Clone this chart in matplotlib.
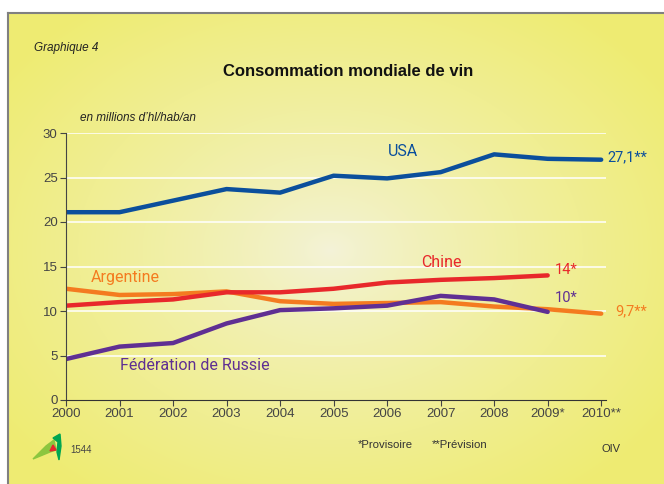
import numpy as np
import matplotlib.pyplot as plt
from matplotlib.patches import Polygon

annees = [2000, 2001, 2002, 2003, 2004, 2005, 2006, 2007, 2008, 2009, 2010]
etiquettes_x = ["2000", "2001", "2002", "2003", "2004", "2005", "2006", "2007", "2008", "2009*", "2010**"]

usa = [21.1, 21.1, 22.4, 23.7, 23.3, 25.2, 24.9, 25.6, 27.6, 27.1, 27.0]
chine = [10.6, 11.0, 11.3, 12.1, 12.1, 12.5, 13.2, 13.5, 13.7, 14.0]
argentine = [12.5, 11.8, 11.9, 12.2, 11.1, 10.8, 10.9, 11.0, 10.5, 10.2, 9.7]
russie = [4.6, 6.0, 6.4, 8.6, 10.1, 10.3, 10.6, 11.7, 11.3, 9.9]

bleu = "#0b4f9c"
rouge = "#e8282b"
orange = "#f47b20"
violet = "#5f2f93"

etroite = ["Liberation Sans Narrow", "Liberation Sans", "DejaVu Sans"]
plt.rcParams["font.family"] = ["Liberation Sans", "DejaVu Sans"]

fig = plt.figure(figsize=(6.64, 4.84), dpi=100)

# fond jaune avec centre plus clair
fond = fig.add_axes([0, 0, 1, 1])
W, H = 664, 484
xx, yy = np.meshgrid(np.arange(W), np.arange(H))
r = np.sqrt(((xx - 330) / 400) ** 2 + ((yy - 250) / 300) ** 2)
r = np.clip(r, 0, 1) ** 0.8
clair = np.array([0.955, 0.952, 0.85])
fonce = np.array([0.935, 0.925, 0.45])
img = clair[None, None, :] * (1 - r[..., None]) + fonce[None, None, :] * r[..., None]
img[:13, :, :] = 1.0
img[:, :8, :] = 1.0
fond.imshow(img, extent=[0, W, H, 0], aspect="auto")
fond.plot([8, W], [13, 13], color="#808080", lw=1.5)
fond.plot([8, 8], [13, H], color="#808080", lw=1.5)
fond.set_xlim(0, W)
fond.set_ylim(H, 0)
fond.axis("off")

# petit logo
fond.add_patch(Polygon([[33, 459], [46, 446], [54, 440], [56, 450], [50, 452]],
                       closed=True, color="#8cc63f"))
fond.add_patch(Polygon([[53, 438], [60, 434], [61, 446], [59, 460], [57, 452], [58, 442]],
                       closed=True, color="#00a651"))
fond.add_patch(Polygon([[50, 451], [53, 445], [56, 450]], closed=True, color="#e8282b"))

ax = fig.add_axes([66 / 664, 1 - 400 / 484, 540 / 664, 267 / 484])
ax.set_facecolor("none")

ax.plot(annees, usa, color=bleu, lw=3.2, solid_capstyle="round")
ax.plot(annees, argentine, color=orange, lw=3.2, solid_capstyle="round")
ax.plot(annees[:10], chine, color=rouge, lw=3.2, solid_capstyle="round")
ax.plot(annees[:10], russie, color=violet, lw=3.2, solid_capstyle="round")

ax.set_xlim(2000, 2010.09)
ax.set_ylim(0, 30)
ax.set_yticks([0, 5, 10, 15, 20, 25, 30])
ax.set_xticks(annees)
ax.set_xticklabels(etiquettes_x)
ax.tick_params(labelsize=9.5, colors="#444444", length=4, width=0.8, pad=2)
for lab in ax.get_xticklabels() + ax.get_yticklabels():
    lab.set_family(etroite)
for y in [5, 10, 15, 20, 25, 30]:
    ax.axhline(y, color="white", lw=1.1, zorder=0)
for s in ["top", "right"]:
    ax.spines[s].set_visible(False)
ax.spines["left"].set_color("#444444")
ax.spines["bottom"].set_color("#333333")

# étiquettes des séries
serie = ["Roboto", "DejaVu Sans"]
ax.text(2006.02, 27.9, "USA", color=bleu, fontsize=11.5, family=serie, ha="left", va="center")
ax.text(2010.11, 27.3, "27,1**", color=bleu, fontsize=10.5, family=serie, ha="left", va="center")
ax.text(2006.64, 15.4, "Chine", color=rouge, fontsize=11.5, family=serie, ha="left", va="center")
ax.text(2009.14, 14.6, "14*", color=rouge, fontsize=10.5, family=serie, ha="left", va="center")
ax.text(2000.47, 13.8, "Argentine", color=orange, fontsize=11.5, family=serie, ha="left", va="center")
ax.text(2009.14, 11.5, "10*", color=violet, fontsize=10.5, family=serie, ha="left", va="center")
ax.text(2010.26, 10.0, "9,7**", color=orange, fontsize=10.5, family=serie, ha="left", va="center")
ax.text(2001.0, 3.9, "Fédération de Russie", color=violet, fontsize=11.5, family=serie,
        ha="left", va="center")

fig.text(34 / 664, 1 - 48 / 484, "Graphique 4", fontsize=8.5, style="italic", color="#222222",
         ha="left", va="center")
fig.text(348 / 664, 1 - 72 / 484, "Consommation mondiale de vin", fontsize=12, weight="bold",
         color="#111111", ha="center", va="center")
fig.text(80 / 664, 1 - 118 / 484, "en millions d\u2019hl/hab/an", fontsize=8.5, style="italic",
         color="#222222", ha="left", va="center")
fig.text(358 / 664, 1 - 445 / 484, "*Provisoire", fontsize=8.2, family=etroite, color="#333333",
         ha="left", va="center")
fig.text(432 / 664, 1 - 445 / 484, "**Prévision", fontsize=8.2, family=etroite, color="#333333",
         ha="left", va="center")
fig.text(601 / 664, 1 - 449 / 484, "OIV", fontsize=8, family=etroite, color="#333333",
         ha="left", va="center")
fig.text(70 / 664, 1 - 450 / 484, "1544", fontsize=7, family=etroite, color="#444444",
         ha="left", va="center")

fig.savefig("out.png", dpi=100)
